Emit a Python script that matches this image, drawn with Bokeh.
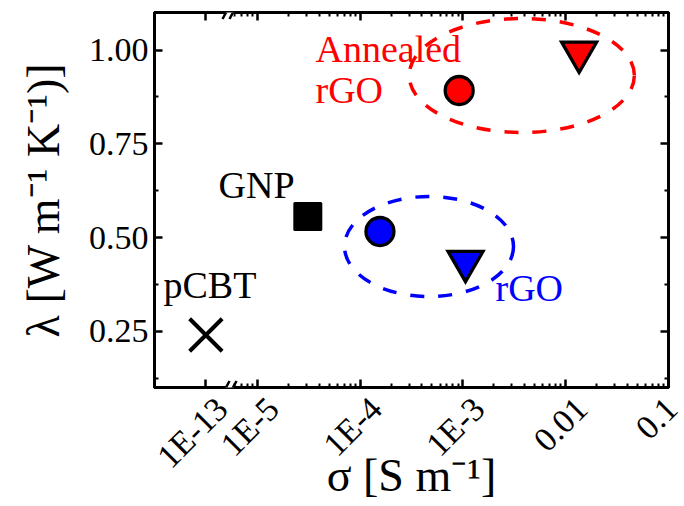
import math
import numpy as np
from bokeh.plotting import figure
from bokeh.models import (FixedTicker, Range1d, LinearAxis, Arrow,
                          BoxAnnotation, CustomJSTickFormatter)
from bokeh.core.properties import value
from bokeh.embed import file_html
from bokeh.resources import INLINE

# ---------------- data ----------------
pcbt_sigma = [1e-13]
pcbt_lambda = [0.240]
gnp_sigma = [3.1e-5]
gnp_lambda = [0.556]
rgo_circle_sigma = [1.56e-4]
rgo_circle_lambda = [0.516]
rgo_tri_sigma = [1.06e-3]
rgo_tri_lambda = [0.436]
argo_circle_sigma = [9.2e-4]
argo_circle_lambda = [0.892]
argo_tri_sigma = [1.35e-2]
argo_tri_lambda = [0.994]

x_tick_sigma = [1e-13, 1e-5, 1e-4, 1e-3, 1e-2, 1e-1]
x_tick_labels = ["1E-13", "1E-5", "1E-4", "1E-3", "0.01", "0.1"]
y_ticks = [0.25, 0.50, 0.75, 1.00]
y_tick_labels = ["0.25", "0.50", "0.75", "1.00"]
y_minor = [0.125, 0.375, 0.625, 0.875]

x_title = "σ [S m⁻¹]"
y_title = "λ [W m⁻¹ K⁻¹)]"

# group ellipses (center sigma, center lambda, width in decades, height)
ell_sigma = [3.74e-3, 4.68e-4]
ell_lambda = [0.932, 0.476]
ell_w_dec = [2.19, 1.644]
ell_h = [0.304, 0.267]
ell_colors = ["#FF0000", "#0000FF"]

# ---------------- broken log axis transform ----------------
BREAK_SLOT = -5.5      # where the 1E-13 value is drawn
BREAK_PX = 229         # page x of the axis-break marks


def xpos(s):
    s = np.asarray(s, dtype=float)
    return np.where(s < 1e-6, BREAK_SLOT, np.log10(np.maximum(s, 1e-300)))


X0, X1 = -6.0, -1.0
Y0, Y1 = 0.1, 1.1
W, H = 684, 506
FL, FR, FT, FB = 154, 668, 12, 387  # frame on page


def ux(px):
    return X0 + (px - FL) * (X1 - X0) / (FR - FL)


def vy(py):
    return Y1 - (py - FT) * (Y1 - Y0) / (FB - FT)


def sx(px):   # screen units, relative to frame left
    return px - FL


def sy(py):   # screen units, relative to frame bottom, upward
    return FB - py


FONT = "Liberation Serif"

p = figure(width=W, height=H, x_range=Range1d(X0, X1), y_range=Range1d(Y0, Y1),
           output_backend="svg", toolbar_location=None,
           x_axis_location=None, y_axis_location=None,
           min_border_left=FL, min_border_right=W - FR, min_border_top=FT,
           min_border_bottom=H - FB)
p.grid.visible = False
p.outline_line_color = "black"
p.outline_line_width = 3
p.background_fill_color = "white"
p.border_fill_color = "white"

x_ticks = [float(v) for v in xpos(x_tick_sigma)]
x_minor = []
for d in range(-6, -1):
    for k in range(2, 10):
        v = k * 10.0 ** d
        if v >= 6e-6:
            x_minor.append(math.log10(v))


def fmt(ticks, labels):
    return CustomJSTickFormatter(args=dict(t=ticks, l=labels), code="""
        for (let i = 0; i < t.length; i++) { if (Math.abs(t[i] - tick) < 1e-6) return l[i]; }
        return '';""")


def style(ax, ticks, minor, labels, standoff=6):
    ax.ticker = FixedTicker(ticks=ticks, minor_ticks=minor)
    ax.axis_line_width = 3
    ax.axis_line_color = "black"
    ax.major_tick_in = 8
    ax.major_tick_out = 0
    ax.major_tick_line_width = 2.5
    ax.minor_tick_in = 4
    ax.minor_tick_out = 0
    ax.minor_tick_line_width = 2
    ax.major_label_text_font = FONT
    ax.major_label_text_color = "black"
    ax.axis_label_text_font = FONT
    ax.axis_label_text_font_style = "normal"
    ax.axis_label_text_font_size = "46px"
    ax.axis_label_text_color = "black"
    if labels is None:
        ax.formatter = fmt(ticks, ["" for _ in ticks])
        ax.major_label_text_font_size = "0px"
        ax.major_label_standoff = 0
    else:
        ax.formatter = fmt(ticks, labels)
        ax.major_label_text_font_size = "34px"
        ax.major_label_standoff = standoff


bottom = LinearAxis(axis_label=x_title)
style(bottom, x_ticks, x_minor, ["\n" + t for t in x_tick_labels], standoff=0)
bottom.major_label_orientation = math.pi / 4
bottom.axis_label_standoff = -57
p.add_layout(bottom, "below")
top = LinearAxis()
style(top, x_ticks, x_minor, None)
p.add_layout(top, "above")
left = LinearAxis(axis_label=y_title)
style(left, y_ticks, y_minor, y_tick_labels)
left.axis_label_standoff = 17
p.add_layout(left, "left")
right = LinearAxis()
style(right, y_ticks, y_minor, None)
p.add_layout(right, "right")

# axis breaks (decoration, screen units)
for edge in (FT, FB):
    p.add_layout(BoxAnnotation(left=sx(BREAK_PX - 4), right=sx(BREAK_PX + 4),
                               bottom=sy(edge + 3), top=sy(edge - 3),
                               left_units="screen", right_units="screen",
                               top_units="screen", bottom_units="screen",
                               fill_color="white", fill_alpha=1.0, line_color=None,
                               level="overlay"))
    for c in (BREAK_PX - 3.5, BREAK_PX + 3.5):
        p.add_layout(Arrow(end=None, x_start=sx(c - 3.5), y_start=sy(edge + 6.5),
                           x_end=sx(c + 3.5), y_end=sy(edge - 6.5),
                           start_units="screen", end_units="screen",
                           line_color="black", line_width=2.5, level="overlay"))

# ellipses
p.ellipse(x=list(xpos(ell_sigma)), y=ell_lambda, width=ell_w_dec, height=ell_h,
          fill_color=None, line_color=ell_colors, line_width=3.5, line_dash="14 14")

# markers
p.scatter(x=xpos(pcbt_sigma), y=pcbt_lambda, marker="x", size=46,
          line_color="black", line_width=4)
p.scatter(x=xpos(gnp_sigma), y=gnp_lambda, marker="square", size=26,
          fill_color="black", line_color="black", line_width=3, line_join="round")
p.scatter(x=xpos(rgo_circle_sigma), y=rgo_circle_lambda, marker="circle", size=28,
          fill_color="#0000FF", line_color="black", line_width=3.3)
p.scatter(x=xpos(rgo_tri_sigma), y=rgo_tri_lambda, marker="inverted_triangle", size=35,
          fill_color="#0000FF", line_color="black", line_width=3.3, line_join="miter")
p.scatter(x=xpos(argo_circle_sigma), y=argo_circle_lambda, marker="circle", size=28,
          fill_color="#FF0000", line_color="black", line_width=3.3)
p.scatter(x=xpos(argo_tri_sigma), y=argo_tri_lambda, marker="inverted_triangle", size=35,
          fill_color="#FF0000", line_color="black", line_width=3.3, line_join="miter")

# annotations (baseline positions corrected for Bokeh's text anchoring)
TXT_DY = 14
ann_text = ["Annealed", "rGO", "GNP", "pCBT", "rGO"]
ann_x = [ux(315), ux(315), ux(218), ux(163), ux(495)]
ann_y = [vy(62 - TXT_DY), vy(103 - TXT_DY), vy(198 - TXT_DY), vy(298 - TXT_DY),
         vy(301 - TXT_DY)]
ann_col = ["#FF0000", "#FF0000", "black", "black", "#0000FF"]
p.text(x=ann_x, y=ann_y, text=ann_text, text_color=ann_col,
       text_font=value(FONT), text_font_size=value("38px"),
       text_baseline=value("alphabetic"), text_align=value("left"))

open("out.html", "w").write(file_html(p, INLINE))
